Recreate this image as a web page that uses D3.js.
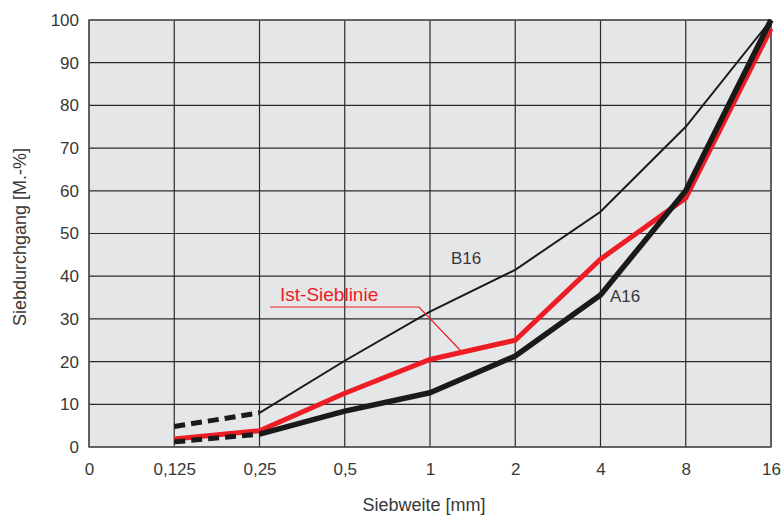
<!DOCTYPE html>
<html>
<head>
<meta charset="utf-8">
<script src="https://cdn.jsdelivr.net/npm/d3@7.9.0/dist/d3.min.js"></script>
<style>
  body { margin: 0; background: #fff; }
  svg text { font-family: 'Liberation Sans', Arial, sans-serif; fill: #383838; }
</style>
</head>
<body>
<svg id="chart" width="783" height="516"></svg>
<script>
// sieve sizes (mm) as shown on the x axis
const sizes = ['0', '0,125', '0,25', '0,5', '1', '2', '4', '8', '16'];
const yTicks = [0, 10, 20, 30, 40, 50, 60, 70, 80, 90, 100];

// grading curves, values in M.-% passing
const b16Dashed = [['0,125', 4.8], ['0,25', 8.0]];
const b16 = [['0,25', 8.0], ['0,5', 20.2], ['1', 31.7], ['2', 41.5], ['4', 55.1], ['8', 75], ['16', 100]];
const a16Dashed = [['0,125', 1.2], ['0,25', 3.0]];
const a16 = [['0,25', 3.0], ['0,5', 8.4], ['1', 12.7], ['2', 21.3], ['4', 35.6], ['8', 60], ['16', 100]];
const ist = [['0,125', 1.9], ['0,25', 3.8], ['0,5', 12.6], ['1', 20.5], ['2', 25], ['4', 44], ['8', 58.3], ['16', 98]];

const svg = d3.select('#chart');
const pLeft = 89, pRight = 771, pTop = 20, pBottom = 447;

const x = d3.scalePoint().domain(sizes).range([pLeft, pRight]);
const y = d3.scaleLinear().domain([0, 100]).range([pBottom, pTop]);

// background
svg.append('rect')
  .attr('x', pLeft).attr('y', pTop)
  .attr('width', pRight - pLeft).attr('height', pBottom - pTop)
  .attr('fill', '#e5e6e8');

// grid
const grid = svg.append('g').attr('stroke', '#2a2a2a').attr('stroke-width', 1.2);
grid.selectAll('.v').data(sizes).join('line').attr('class', 'v')
  .attr('x1', d => x(d)).attr('x2', d => x(d))
  .attr('y1', pTop).attr('y2', pBottom);
grid.selectAll('.h').data(yTicks).join('line').attr('class', 'h')
  .attr('x1', pLeft).attr('x2', pRight)
  .attr('y1', d => y(d)).attr('y2', d => y(d));
svg.append('rect')
  .attr('x', pLeft).attr('y', pTop)
  .attr('width', pRight - pLeft).attr('height', pBottom - pTop)
  .attr('fill', 'none').attr('stroke', '#555').attr('stroke-width', 1.5);

// axes labels
const xAxis = d3.axisBottom(x).tickSize(0).tickPadding(16);
svg.append('g').attr('transform', `translate(0,${pBottom})`).call(xAxis)
  .call(g => g.select('.domain').remove())
  .selectAll('text').attr('font-size', 17).attr('font-family', null).attr('fill', '#383838');

const yAxis = d3.axisLeft(y).tickValues(yTicks).tickSize(0).tickPadding(10);
svg.append('g').attr('transform', `translate(${pLeft},0)`).call(yAxis)
  .call(g => g.select('.domain').remove())
  .selectAll('text').attr('font-size', 17).attr('font-family', null).attr('fill', '#383838');

svg.append('text')
  .attr('x', 424).attr('y', 511)
  .attr('text-anchor', 'middle').attr('font-size', 18)
  .text('Siebweite [mm]');
svg.append('text')
  .attr('transform', `translate(26,237) rotate(-90)`)
  .attr('text-anchor', 'middle').attr('font-size', 18)
  .text('Siebdurchgang [M.-%]');

const line = d3.line().x(d => x(d[0])).y(d => y(d[1]));

// curves
svg.append('path').datum(b16).attr('d', line)
  .attr('fill', 'none').attr('stroke', '#1a1a1a').attr('stroke-width', 2);
svg.append('path').datum(ist).attr('d', line)
  .attr('fill', 'none').attr('stroke', '#ee1c25').attr('stroke-width', 5);
svg.append('path').datum(a16).attr('d', line)
  .attr('fill', 'none').attr('stroke', '#1a1a1a').attr('stroke-width', 5.5)
  .attr('stroke-linejoin', 'round');
[b16Dashed, a16Dashed].forEach(seg => {
  svg.append('path').datum(seg).attr('d', line)
    .attr('fill', 'none').attr('stroke', '#1a1a1a').attr('stroke-width', 5)
    .attr('stroke-dasharray', '11,6');
});

// annotations
svg.append('text').attr('x', 451).attr('y', 264).attr('font-size', 17).text('B16');
svg.append('text').attr('x', 610).attr('y', 302).attr('font-size', 17).text('A16');
svg.append('text').attr('x', 280).attr('y', 301).attr('font-size', 19)
  .style('fill', '#ee1c25').text('Ist-Sieblinie');
svg.append('path')
  .attr('d', d3.line()([[270, 307], [419, 307], [460, 350]]))
  .attr('fill', 'none').attr('stroke', '#ee1c25').attr('stroke-width', 1.2);
</script>
</body>
</html>
